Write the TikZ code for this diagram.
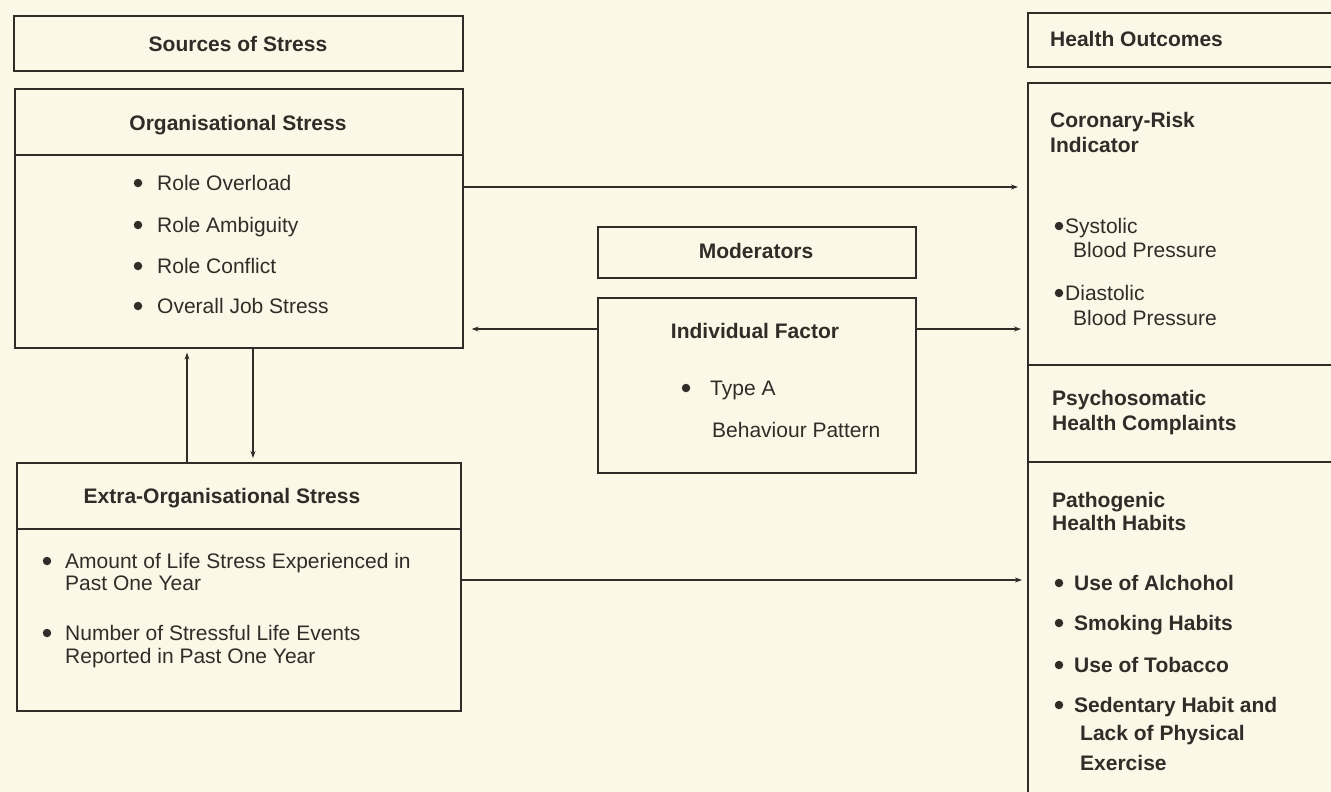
\documentclass[tikz,border=0pt]{standalone}
\usepackage{fontspec}
\setmainfont{Liberation Sans}
\usetikzlibrary{arrows.meta}
\definecolor{bg}{RGB}{251,248,231}
\definecolor{ink}{RGB}{50,44,40}
\begin{document}
\begin{tikzpicture}[x=1pt,y=-1pt,
  box/.style={draw=ink, line width=1.6pt, inner sep=0pt, anchor=north west},
  lbl/.style={inner sep=0pt, text=ink, font=\fontsize{21}{25}\selectfont, anchor=base west},
  hd/.style={lbl, font=\bfseries\fontsize{21}{25}\selectfont},
  hdc/.style={hd, anchor=base},
  bl/.style={lbl, font=\bfseries\fontsize{21}{25}\selectfont},
  dot/.style={circle, fill=ink, inner sep=0pt, minimum size=8.5pt},
  arr/.style={draw=ink, line width=1.3pt, -{Stealth[length=7pt,width=5pt]}}]
\useasboundingbox (0,0) rectangle (1331,792);
\fill[bg] (0,0) rectangle (1331,792);
\clip (0,0) rectangle (1331,792);

% left column
\node[box, minimum width=449pt, minimum height=55pt] (src) at (13,15) {};
\node[hdc] (srct) at (238,52) {Sources of Stress};

\node[box, minimum width=448pt, minimum height=259pt] (org) at (14,88) {};
\draw[draw=ink, line width=1.6pt] (org.west |- 0,155) -- (org.east |- 0,155);
\node[hdc] (orgt) at (238,130) {Organisational Stress};
\node[dot] (o1d) at (138,183) {}; \node[lbl] (o1) at (157,190) {Role Overload};
\node[dot] (o2d) at (138,225) {}; \node[lbl] (o2) at (157,232) {Role Ambiguity};
\node[dot] (o3d) at (138,266) {}; \node[lbl] (o3) at (157,273) {Role Conflict};
\node[dot] (o4d) at (138,306) {}; \node[lbl] (o4) at (157,313) {Overall Job Stress};

\node[box, minimum width=444pt, minimum height=248pt] (ext) at (16,462) {};
\draw[draw=ink, line width=1.6pt] (ext.west |- 0,529) -- (ext.east |- 0,529);
\node[hdc] (extt) at (222,503) {Extra-Organisational Stress};
\node[dot] (e1d) at (47,561) {}; \node[lbl] (e1) at (65,568) {Amount of Life Stress Experienced in};
\node[lbl] (e1b) at (65,590) {Past One Year};
\node[dot] (e2d) at (47,633) {}; \node[lbl] (e2) at (65,640) {Number of Stressful Life Events};
\node[lbl] (e2b) at (65,663) {Reported in Past One Year};

% middle
\node[box, minimum width=318pt, minimum height=51pt] (mod) at (597,226) {};
\node[hdc] (modt) at (756,258) {Moderators};
\node[box, minimum width=318pt, minimum height=175pt] (ind) at (597,297) {};
\node[hdc] (indt) at (755,338) {Individual Factor};
\node[dot] (i1d) at (686,388) {}; \node[lbl] (i1) at (710,395) {Type A};
\node[lbl] (i1b) at (712,437) {Behaviour Pattern};

% right column
\node[box, minimum width=330pt, minimum height=54pt] (ho) at (1027,12) {};
\node[hd] (hot) at (1050,47) {Health Outcomes};
\node[box, minimum width=330pt, minimum height=740pt] (hbig) at (1027,82) {};
\draw[draw=ink, line width=1.6pt] (hbig.west |- 0,365) -- (hbig.east |- 0,365);
\draw[draw=ink, line width=1.6pt] (hbig.west |- 0,462) -- (hbig.east |- 0,462);
\node[hd] (c1) at (1050,128) {Coronary-Risk};
\node[hd] (c2) at (1050,152) {Indicator};
\node[dot] (s1d) at (1059,226) {}; \node[lbl] (s1) at (1065,233) {Systolic};
\node[lbl] (s2) at (1073,257) {Blood Pressure};
\node[dot] (d1d) at (1059,293) {}; \node[lbl] (d1) at (1065,300) {Diastolic};
\node[lbl] (d2) at (1073,325) {Blood Pressure};
\node[hd] (p1) at (1052,405) {Psychosomatic};
\node[hd] (p2) at (1052,430) {Health Complaints};
\node[hd] (g1) at (1052,507) {Pathogenic};
\node[hd] (g2) at (1052,530) {Health Habits};
\node[dot] (h1d) at (1059,583) {}; \node[bl] (h1) at (1074,590) {Use of Alchohol};
\node[dot] (h2d) at (1059,623) {}; \node[bl] (h2) at (1074,630) {Smoking Habits};
\node[dot] (h3d) at (1059,665) {}; \node[bl] (h3) at (1074,672) {Use of Tobacco};
\node[dot] (h4d) at (1059,705) {}; \node[bl] (h4) at (1074,712) {Sedentary Habit and};
\node[bl] (h4b) at (1080,740) {Lack of Physical};
\node[bl] (h4c) at (1080,770) {Exercise};

% connectors
\coordinate (yA) at (0,187);
\coordinate (yB) at (0,329);
\coordinate (yC) at (0,580);
\coordinate (xU) at (187,0);
\coordinate (xD) at (253,0);
\draw[arr, shorten >=9pt] (org.east |- yA) -- (hbig.west |- yA);
\draw[arr, shorten >=8pt] (ind.west |- yB) -- (org.east |- yB);
\draw[arr, shorten >=6pt] (ind.east |- yB) -- (hbig.west |- yB);
\draw[arr, shorten >=5pt] (ext.east |- yC) -- (hbig.west |- yC);
\draw[arr, shorten >=4pt] (ext.north -| xU) -- (org.south -| xU);
\draw[arr, shorten >=4pt] (org.south -| xD) -- (ext.north -| xD);
\end{tikzpicture}
\end{document}
